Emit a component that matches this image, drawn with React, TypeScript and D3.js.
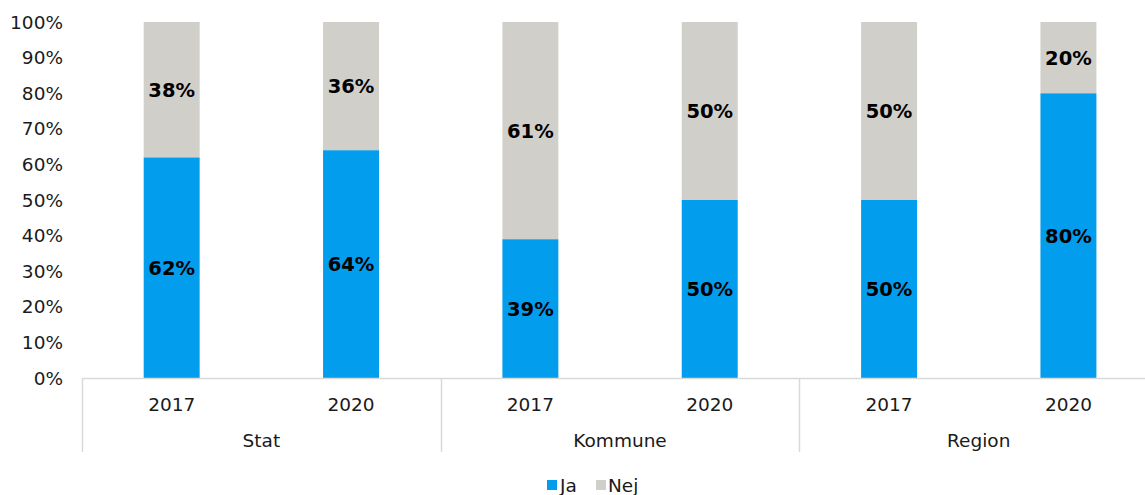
import React from "react";
import * as d3 from "d3";

const groups = ["Stat", "Kommune", "Region"];
const years = ["2017", "2020"];
const jaValues = [62, 64, 39, 50, 50, 80];
const nejValues = [38, 36, 61, 50, 50, 20];
const yTicks = [0, 10, 20, 30, 40, 50, 60, 70, 80, 90, 100];
const seriesNames = ["Ja", "Nej"];
const seriesColors = ["#039DEE", "#D0CFCA"];

const W = 1145;
const H = 495;
const FONT = "Verdana, 'DejaVu Sans', sans-serif";

export default function App() {
  const left = 82;
  const right = left + 6 * 179.35;
  const top = 22;
  const bottom = 378;

  const cats = groups.flatMap((g) => years.map((y) => `${g}|${y}`));
  const x = d3
    .scaleBand<string>()
    .domain(cats)
    .range([left, right])
    .paddingInner(0.688)
    .paddingOuter(0.344);
  const y = d3.scaleLinear().domain([0, 100]).range([bottom, top]);
  const step = x.step();

  return (
    <svg
      width={W}
      height={H}
      style={{ position: "absolute", left: 0, top: 0, fontFamily: FONT }}
    >
      {/* y ticks */}
      {yTicks.map((t) => (
        <text
          key={t}
          x={63}
          y={y(t)}
          dy="0.36em"
          textAnchor="end"
          fontSize={18.5}
          fill="#1a1a1a"
        >
          {t}%
        </text>
      ))}
      {/* bars */}
      {cats.map((c, i) => {
        const x0 = x(c)!;
        const bw = x.bandwidth();
        const ja = jaValues[i];
        const nej = nejValues[i];
        return (
          <g key={c}>
            <rect x={x0} y={y(ja)} width={bw} height={y(0) - y(ja)} fill={seriesColors[0]} />
            <rect x={x0} y={y(ja + nej)} width={bw} height={y(ja) - y(ja + nej)} fill={seriesColors[1]} />
            <text
              x={x0 + bw / 2}
              y={y(ja / 2)}
              dy="0.36em"
              textAnchor="middle"
              fontSize={19.5}
              fontWeight="bold"
              fill="#000"
            >
              {ja}%
            </text>
            <text
              x={x0 + bw / 2}
              y={y(ja + nej / 2)}
              dy="0.36em"
              textAnchor="middle"
              fontSize={19.5}
              fontWeight="bold"
              fill="#000"
            >
              {nej}%
            </text>
            <text
              x={x0 + bw / 2}
              y={404}
              dy="0.36em"
              textAnchor="middle"
              fontSize={18.5}
              fill="#1a1a1a"
            >
              {years[i % 2]}
            </text>
          </g>
        );
      })}
      {/* axis line */}
      <line x1={left} x2={W} y1={bottom + 0.5} y2={bottom + 0.5} stroke="#D9D9D9" strokeWidth={1.5} />
      {/* group separators and labels */}
      {groups.map((g, gi) => {
        const gx0 = x(`${g}|${years[0]}`)! - (step - x.bandwidth()) / 2;
        const gx1 = gx0 + 2 * step;
        return (
          <g key={g}>
            <line x1={Math.round(gx0) + 0.5} x2={Math.round(gx0) + 0.5} y1={bottom} y2={452} stroke="#D9D9D9" strokeWidth={1.5} />
            {gi === groups.length - 1 && (
              <line x1={Math.round(gx1) + 0.5} x2={Math.round(gx1) + 0.5} y1={bottom} y2={452} stroke="#D9D9D9" strokeWidth={1.5} />
            )}
            <text
              x={(gx0 + gx1) / 2}
              y={440}
              dy="0.36em"
              textAnchor="middle"
              fontSize={18.5}
              fill="#1a1a1a"
            >
              {g}
            </text>
          </g>
        );
      })}
      {/* legend */}
      <g>
        <rect x={547} y={480} width={10} height={10} fill={seriesColors[0]} />
        <text x={560} y={485} dy="0.36em" fontSize={18.5} fill="#1a1a1a">
          {seriesNames[0]}
        </text>
        <rect x={596} y={480} width={10} height={10} fill={seriesColors[1]} />
        <text x={608} y={485} dy="0.36em" fontSize={18.5} fill="#1a1a1a">
          {seriesNames[1]}
        </text>
      </g>
    </svg>
  );
}
